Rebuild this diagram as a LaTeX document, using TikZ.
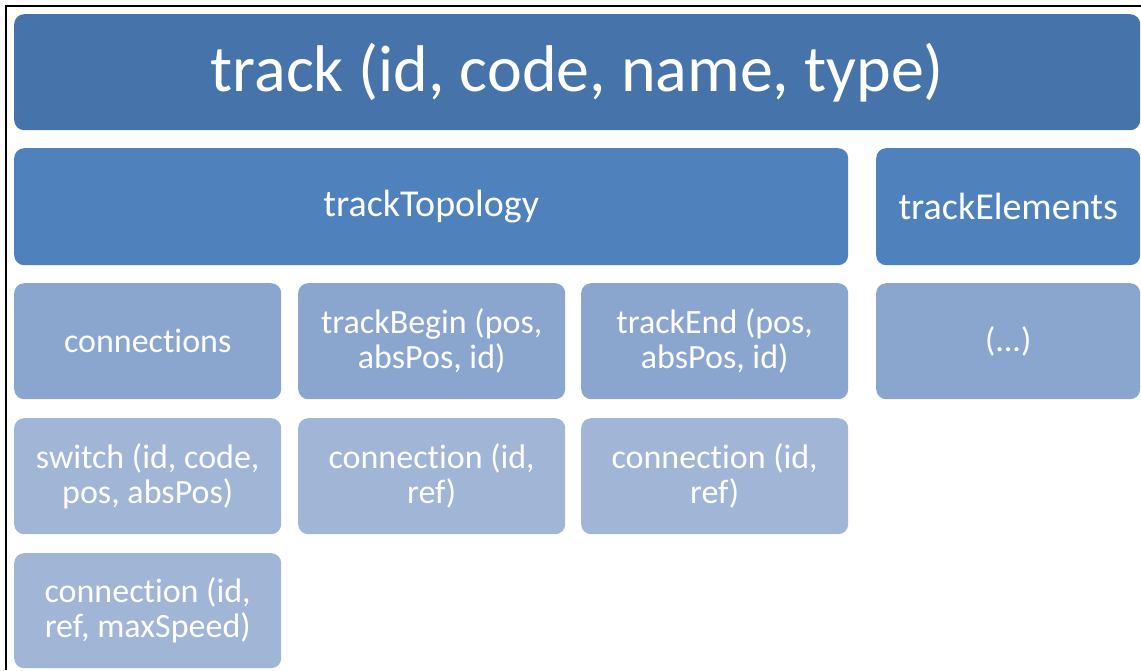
\documentclass[tikz,border=0pt]{standalone}
\usepackage{fontspec}
\setmainfont{Carlito}[RawFeature={-liga;-clig;-calt;-dlig}]
\newcommand{\tiapart}{t\kern0pt i}
\definecolor{titleblue}{RGB}{70,116,170}
\definecolor{midblue}{RGB}{79,129,189}
\definecolor{lightblue}{RGB}{139,166,206}
\definecolor{paleblue}{RGB}{161,181,215}
\tikzset{
  box/.style={rounded corners=10pt, anchor=north west, inner sep=0pt, align=center, text=white},
  titlebox/.style={box, fill=titleblue, font=\fontsize{66}{70}\selectfont},
  partbox/.style={box, fill=midblue, font=\fontsize{38}{40}\selectfont},
  itembox/.style={box, fill=lightblue, minimum width=267pt, minimum height=116pt, font=\fontsize{34}{35}\selectfont},
  subbox/.style={itembox, fill=paleblue}
}
\begin{document}
\begin{tikzpicture}[x=1pt, y=-1pt]
	\useasboundingbox (0,0) rectangle (1141,670);
	\draw[line width=2.5pt] (6,670) -- (6,6) -- (1141,6);
	% top level
	\node[titlebox, minimum width=1126pt, minimum height=116pt] (track) at (14,14) {track (id, code, name, type)};
	% second level
	\node[partbox, minimum width=834pt, minimum height=117pt] (topology) at (14,148) {trackTopology};
	\node[partbox, minimum width=264pt, minimum height=117pt] (elements) at (876,148) {trackElements};
	% third level
	\node[itembox] (connections) at (14,283) {connec\tiapart ons};
	\node[itembox] (begin) at (298,283) {trackBegin (pos,\\absPos, id)};
	\node[itembox] (end) at (581,283) {trackEnd (pos,\\absPos, id)};
	\node[itembox, minimum width=264pt] (more) at (876,283) {(...)};
	% fourth level
	\node[subbox] (switch) at (14,418) {switch (id, code,\\pos, absPos)};
	\node[subbox] (beginconn) at (298,418) {connec\tiapart on (id,\\ref)};
	\node[subbox] (endconn) at (581,418) {connec\tiapart on (id,\\ref)};
	\node[subbox, minimum height=115pt] (switchconn) at (14,553) {connec\tiapart on (id,\\ref, maxSpeed)};
\end{tikzpicture}
\end{document}
